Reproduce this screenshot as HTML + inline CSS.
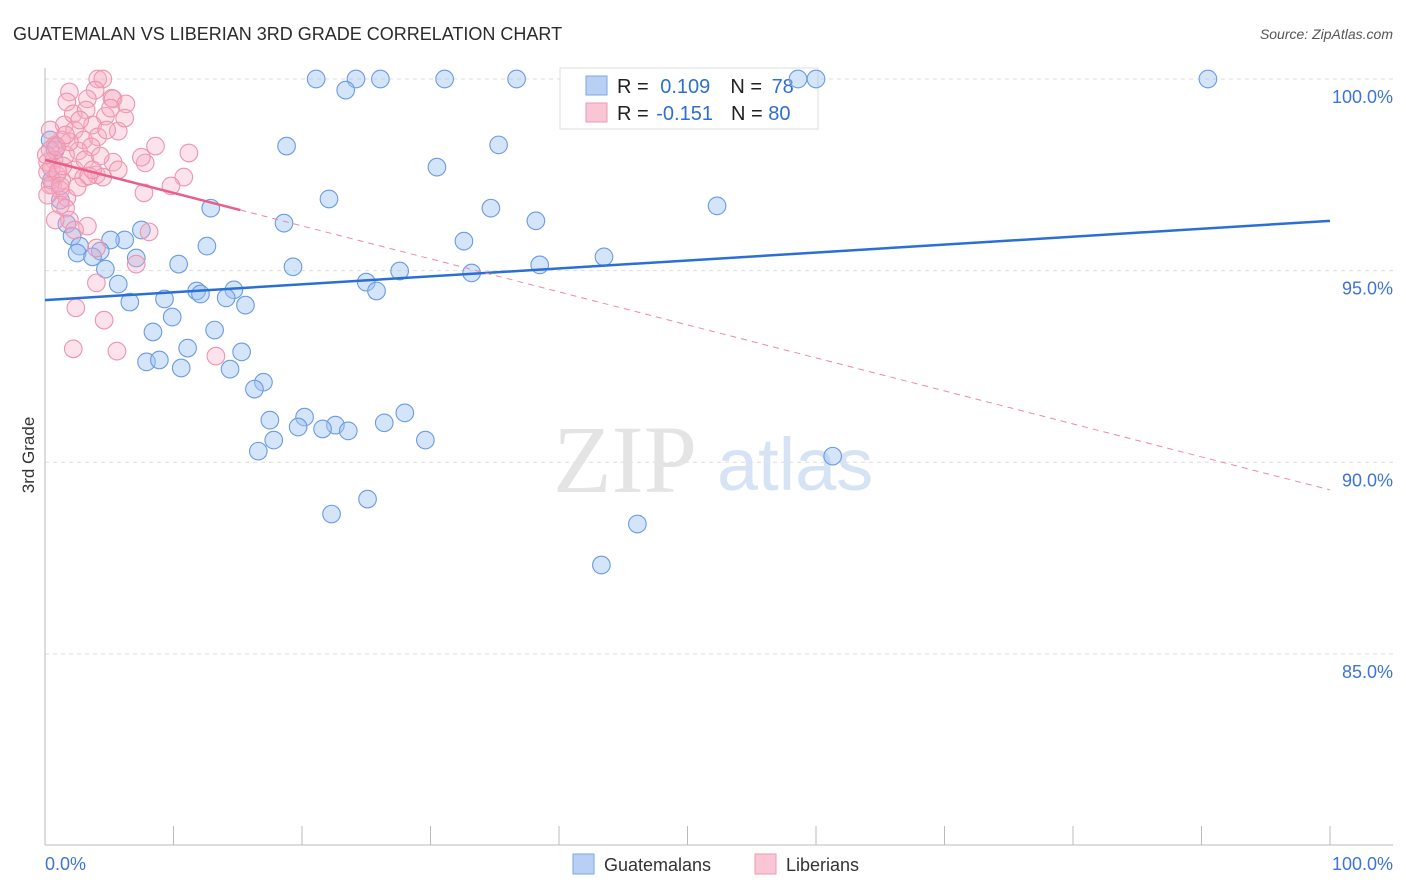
<!DOCTYPE html>
<html><head><meta charset="utf-8">
<style>
body{margin:0;background:#fff;font-family:"Liberation Sans",sans-serif;}
svg{display:block}
</style></head>
<body>
<svg id="chart" width="1406" height="892" viewBox="0 0 1406 892" xmlns="http://www.w3.org/2000/svg">
<text x="13" y="40" font-size="18" fill="#2b2b2b">GUATEMALAN VS LIBERIAN 3RD GRADE CORRELATION CHART</text>
<text x="1393" y="39" font-size="14" fill="#555" font-style="italic" text-anchor="end">Source: ZipAtlas.com</text>
<g id="grid"></g>
<g>
<text x="553" y="492" font-family="Liberation Serif,serif" font-size="96" fill="#e4e4e4">ZIP</text>
<text x="717" y="490" font-size="74" fill="#d6e3f5">atlas</text>
</g>
<g id="axes"></g>
<text transform="translate(34,455) rotate(-90)" font-size="17" fill="#333" text-anchor="middle">3rd Grade</text>
<g>
<rect x="560" y="68" width="258" height="61" fill="#fff" stroke="#ddd"/>
<rect x="586" y="76" width="21" height="19" fill="#b8d0f3" stroke="#7da6e6"/>
<rect x="586" y="103" width="21" height="19" fill="#f9c6d6" stroke="#ec9ab5"/>
<text x="617" y="93" font-size="20" fill="#222">R = <tspan fill="#2f6fd1" dx="6">0.109</tspan><tspan dx="20">N = </tspan><tspan fill="#2f6fd1" dx="4">78</tspan></text>
<text x="617" y="120" font-size="20" fill="#222">R = <tspan fill="#2f6fd1" dx="2">-0.151</tspan><tspan dx="18">N = </tspan><tspan fill="#2f6fd1" dx="0">80</tspan></text>
</g>
<g id="pts"></g>
<g id="trend"></g>
<g>
<rect x="573" y="854" width="21" height="20" fill="#b8d0f3" stroke="#7da6e6"/>
<text x="604" y="871" font-size="18" fill="#333">Guatemalans</text>
<rect x="755" y="854" width="21" height="20" fill="#f9c6d6" stroke="#ec9ab5"/>
<text x="786" y="871" font-size="18" fill="#333">Liberians</text>
</g>
</svg>
<script>
const yTicks=[100,95,90,85];
const yTickLabels=["100.0%","95.0%","90.0%","85.0%"];
const xTicks=[0,10,20,30,40,50,60,70,80,90,100];
const blueX=[21.1,24.2,26.1,31.1,36.7,23.4,58.6,60.0,90.5,18.8,35.3,30.5,22.1,34.7,38.2,52.3,12.9,18.6,7.5,1.7,2.1,32.6,6.2,5.1,12.6,2.7,4.3,2.5,3.7,7.1,43.5,38.5,10.4,19.3,27.6,33.2,4.7,25.0,5.7,25.8,11.8,14.7,12.1,9.3,14.1,6.6,15.6,9.9,8.4,13.2,11.1,15.3,7.9,8.9,10.6,14.4,17.0,16.3,17.5,28.0,20.2,22.6,19.7,21.6,23.6,26.4,17.8,29.6,16.6,61.3,25.1,22.3,46.1,43.3,0.4,0.8,1.2,0.5];
const blueY=[100,100,100,100,100,99.71,100,100,100,98.25,98.28,97.70,96.87,96.63,96.30,96.69,96.63,96.24,96.06,96.22,95.90,95.77,95.80,95.80,95.64,95.64,95.51,95.46,95.36,95.33,95.36,95.15,95.17,95.10,94.99,94.94,95.04,94.70,94.65,94.47,94.47,94.50,94.39,94.26,94.29,94.18,94.10,93.79,93.40,93.45,92.98,92.88,92.62,92.67,92.46,92.43,92.09,91.91,91.10,91.29,91.18,90.97,90.92,90.87,90.82,91.03,90.58,90.58,90.29,90.16,89.04,88.65,88.39,87.32,98.41,98.15,96.84,97.36];
const pinkX=[4.1,4.5,1.9,3.9,5.2,5.3,1.7,6.3,3.3,1.5,2.2,3.2,4.7,3.7,2.3,5.7,3.0,1.3,0.8,4.1,8.6,3.6,2.6,1.6,0.4,0.7,5.3,7.8,7.5,11.2,5.7,2.3,0.9,1.3,4.0,4.5,3.0,3.4,10.8,9.8,0.6,1.2,7.7,0.2,0.4,1.7,1.2,1.6,1.9,0.8,3.3,8.1,2.3,4.0,7.1,4.0,2.4,4.6,2.2,5.6,13.3,0.2,0.5,1.0,0.2,1.4,2.7,5.1,0.1,0.4,1.9,3.1,4.3,6.2,1.2,2.5,0.9,3.7,1.6,4.8];
const pinkY=[100,100,99.66,99.71,99.50,99.48,99.40,99.35,99.48,98.80,99.09,99.19,99.03,98.80,98.67,98.64,98.41,98.41,98.28,98.49,98.25,98.23,98.12,98.02,98.15,97.89,97.83,97.81,97.96,98.07,97.63,97.63,97.50,97.36,97.50,97.44,97.42,97.47,97.44,97.21,97.23,97.10,97.03,97.57,97.23,96.90,96.71,96.63,96.32,96.32,96.16,96.01,96.06,95.59,95.17,94.68,94.03,93.71,92.96,92.90,92.77,97.83,97.68,97.57,96.97,97.73,98.93,99.24,98.02,98.67,98.36,97.89,97.99,98.98,97.21,97.18,98.23,97.63,98.54,98.67];
const blueTrend=[94.23,96.30];
const pinkTrend=[97.89,89.28];
const pinkSolidEnd=15.2;

const NS="http://www.w3.org/2000/svg";
const X=v=>45+v*12.85;
const Y=v=>79+(100-v)*38.33;
function mk(tag,attrs,parent){const e=document.createElementNS(NS,tag);for(const k in attrs)e.setAttribute(k,attrs[k]);parent.appendChild(e);return e;}
const grid=document.getElementById('grid'),axes=document.getElementById('axes'),pts=document.getElementById('pts'),trend=document.getElementById('trend');
yTicks.forEach((t,i)=>{
  const l=mk('line',{x1:45,x2:1393,y1:Y(t),y2:Y(t),stroke:'#ddd','stroke-dasharray':'4,4'},grid);
  
  
  const tx=mk('text',{x:1393,y:Y(t)+24,'font-size':18,fill:'#3d74d6','text-anchor':'end'},grid);
  tx.textContent=yTickLabels[i];
  
  
});
const ya=mk('line',{x1:45,x2:45,y1:68,y2:845,stroke:'#bbb'},axes);


const xa=mk('line',{x1:45,x2:1393,y1:845,y2:845,stroke:'#bbb'},axes);


xTicks.forEach(t=>{
  const l=mk('line',{x1:X(t),x2:X(t),y1:826,y2:845,stroke:'#bbb'},axes);
  
  
});
const x0=mk('text',{x:45,y:870,'font-size':18,fill:'#3d74d6'},axes);x0.textContent="0.0%";


const x1=mk('text',{x:1393,y:870,'font-size':18,fill:'#3d74d6','text-anchor':'end'},axes);x1.textContent="100.0%";


blueX.forEach((v,i)=>{
  const c=mk('circle',{cx:X(v),cy:Y(blueY[i]),r:8.8,fill:'rgba(160,195,242,0.45)',stroke:'#6a9be3','stroke-width':1.1},pts);
  
  
});
pinkX.forEach((v,i)=>{
  const c=mk('circle',{cx:X(v),cy:Y(pinkY[i]),r:8.8,fill:'rgba(246,172,196,0.35)',stroke:'#ee94b0','stroke-width':1.1},pts);
  
  
});
const bl=mk('line',{x1:X(0),y1:Y(blueTrend[0]),x2:X(100),y2:Y(blueTrend[1]),stroke:'#2a6fd6','stroke-width':2.5},trend);


const pm=pinkTrend[0]+(pinkTrend[1]-pinkTrend[0])*pinkSolidEnd/100;
const ps=mk('line',{x1:X(0),y1:Y(pinkTrend[0]),x2:X(pinkSolidEnd),y2:Y(pm),stroke:'#e8608a','stroke-width':2.5},trend);


const pd=mk('line',{x1:X(pinkSolidEnd),y1:Y(pm),x2:X(100),y2:Y(pinkTrend[1]),stroke:'#eb8aa8','stroke-width':1,'stroke-dasharray':'6,5'},trend);


</script>
</body></html>
